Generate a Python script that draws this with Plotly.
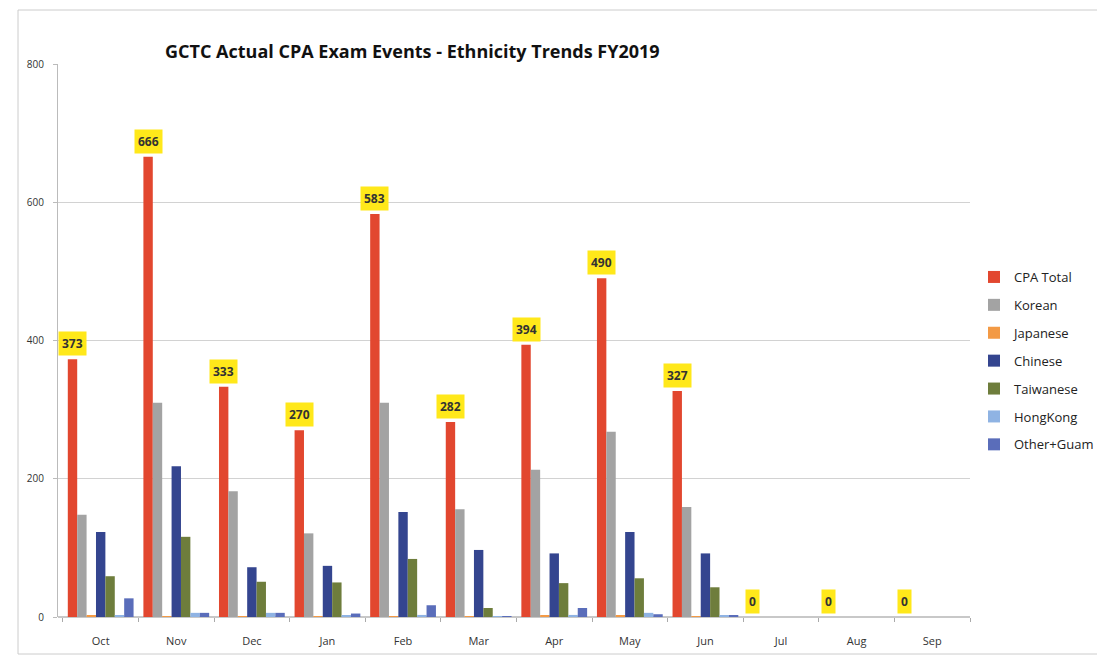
import plotly.graph_objects as go

months = ["Oct", "Nov", "Dec", "Jan", "Feb", "Mar", "Apr", "May", "Jun", "Jul", "Aug", "Sep"]
cpa_total = [373, 666, 333, 270, 583, 282, 394, 490, 327, 0, 0, 0]
korean = [148, 310, 182, 121, 310, 156, 213, 268, 159, 0, 0, 0]
japanese = [2, 1, 1, 1, 1, 1, 2, 2, 1, 0, 0, 0]
chinese = [123, 218, 72, 74, 152, 97, 92, 123, 92, 0, 0, 0]
taiwanese = [59, 116, 51, 50, 84, 13, 49, 56, 43, 0, 0, 0]
hongkong = [2, 6, 6, 2, 3, 1, 3, 6, 2, 0, 0, 0]
other_guam = [27, 6, 6, 5, 17, 1, 13, 4, 2, 0, 0, 0]

series = [
    ("CPA Total", cpa_total, "#E2472F"),
    ("Korean", korean, "#A3A3A3"),
    ("Japanese", japanese, "#F39A45"),
    ("Chinese", chinese, "#34458F"),
    ("Taiwanese", taiwanese, "#6E7D3C"),
    ("HongKong", hongkong, "#8FB3E3"),
    ("Other+Guam", other_guam, "#5A6DBA"),
]

BARGAP = 0.13
n = len(series)

# page body adds an 8px offset; size the figure to fit the 1105x659 window
W, H = 1097, 651
L, T, B = 50, 56, 42
R = W - 962
PH = H - T - B
PW = W - L - R

fig = go.Figure()
for name, vals, color in series:
    fig.add_trace(go.Bar(
        x=months, y=vals, name=name, marker_color=color,
        marker_line_width=0, legendgroup=name,
    ))

# yellow data labels over the CPA Total bars
offset = -(1 - BARGAP) / 2 + (1 - BARGAP) / (2 * n)
for i, v in enumerate(cpa_total):
    fig.add_annotation(
        x=i + offset, y=v, xref="x", yref="y",
        text=f"<b>{v}</b>", showarrow=False, yanchor="bottom", yshift=3,
        bgcolor="#FFE81A", borderpad=3,
        font=dict(family="Open Sans", size=12, color="#333333"),
    )

fig.update_layout(
    width=W, height=H,
    margin=dict(l=L, r=R, t=T, b=B, autoexpand=False),
    paper_bgcolor="white", plot_bgcolor="white",
    barmode="group", bargap=BARGAP, bargroupgap=0,
    title=dict(
        text="<b>GCTC Actual CPA Exam Events - Ethnicity Trends FY2019</b>",
        x=(165 - 8) / W, xanchor="left", xref="container",
        y=1 - (52 - 8) / H, yanchor="middle", yref="container",
        font=dict(family="Open Sans", size=18, color="#111111"),
    ),
    legend=dict(
        x=(974 - 8 - L) / PW, xanchor="left", y=1 - (262 - 64) / PH, yanchor="top",
        font=dict(family="Open Sans", size=13, color="#222222"),
        tracegroupgap=8, itemwidth=30, bgcolor="rgba(0,0,0,0)",
    ),
    xaxis=dict(
        type="category", ticks="outside", tickson="boundaries", ticklen=4,
        tickcolor="#AAAAAA", showline=False, ticklabelstandoff=16,
        tickfont=dict(family="Open Sans", size=11, color="#333333"),
    ),
    yaxis=dict(
        range=[0, 800], dtick=200, showgrid=True, gridcolor="#D2D2D2",
        showline=True, linecolor="#BBBBBB", zeroline=True, zerolinecolor="#C8C8C8",
        tickfont=dict(family="Open Sans", size=10, color="#333333"),
        ticks="outside", ticklen=4, tickcolor="#BBBBBB", ticklabelstandoff=7,
    ),
    showlegend=True,
)

# faint frame of the scanned chart
fig.add_shape(type="rect", xref="paper", yref="paper",
              x0=(18 - 58) / PW, x1=(1100 - 58) / PW,
              y0=-(654 - 617) / PH, y1=1 + (64 - 10) / PH,
              line=dict(color="#CCCCCC", width=1), layer="below")

fig.write_html("out.html")
